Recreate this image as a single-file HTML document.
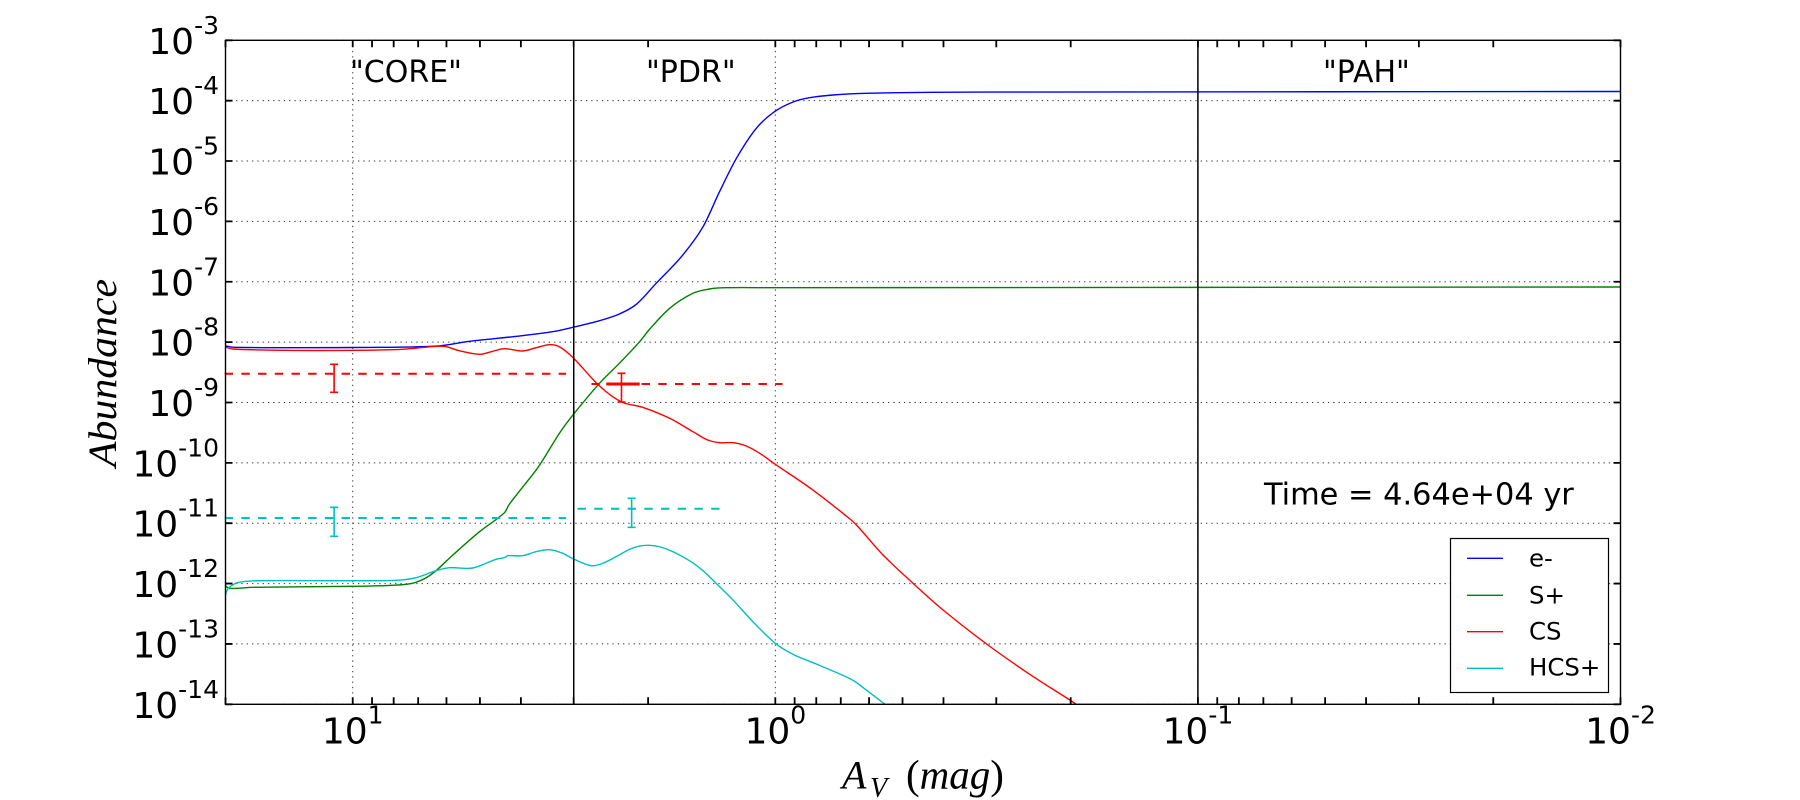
<!DOCTYPE html>
<html lang="en">
<head>
<meta charset="utf-8">
<title>Abundance vs visual extinction</title>
<style>
html,body{margin:0;padding:0;background:#fff;width:1800px;height:800px;overflow:hidden}
svg{display:block}
text{font-family:"DejaVu Sans","Liberation Sans",sans-serif;fill:#000}
.math{font-family:"Liberation Serif",serif}
</style>
</head>
<body>
<svg id="chart" xmlns="http://www.w3.org/2000/svg" width="1800" height="800" viewBox="0 0 1800 800">
  <defs>
    <clipPath id="plot-clip"><rect x="225.5" y="40.3" width="1395" height="664"/></clipPath>
  </defs>
  <rect x="0" y="0" width="1800" height="800" fill="#fff"/>
  <g id="grid"></g>
  <g id="series" clip-path="url(#plot-clip)"></g>
  <g id="observed"></g>
  <g id="regions"></g>
  <g id="ticks"></g>
  <rect x="225.5" y="40.3" width="1395" height="664" fill="none" stroke="#000" stroke-width="1.4"/>
  <g id="ticklabels"></g>

  <text x="350" y="82" font-size="30">"CORE"</text>
  <text x="646" y="82" font-size="30">"PDR"</text>
  <text x="1323" y="82" font-size="30">"PAH"</text>
  <text x="1264" y="504.3" font-size="30.4">Time = 4.64e+04 yr</text>

  <text class="math" transform="translate(116 467) rotate(-90)" font-size="40" font-style="italic" textLength="188" lengthAdjust="spacingAndGlyphs">Abundance</text>
  <g>
    <text class="math" x="842" y="788.3" font-size="40" font-style="italic">A</text>
    <text class="math" x="870" y="797" font-size="28" font-style="italic">V</text>
    <text class="math" x="906" y="788.3" font-size="41">(<tspan font-style="italic">mag</tspan>)</text>
  </g>

  <g>
    <rect x="1450.5" y="538.5" width="158" height="154" fill="#fff" stroke="#000" stroke-width="1.2"/>
    <g>
      <line x1="1467" x2="1503" y1="558.3" y2="558.3" stroke="#0000ff" stroke-width="1.3"/>
      <text x="1529" y="566.7" font-size="24.4">e-</text>
    </g>
    <g>
      <line x1="1467" x2="1503" y1="595.3" y2="595.3" stroke="#008000" stroke-width="1.3"/>
      <text x="1529" y="603.3" font-size="24.4">S+</text>
    </g>
    <g>
      <line x1="1467" x2="1503" y1="631.7" y2="631.7" stroke="#ff0000" stroke-width="1.3"/>
      <text x="1529" y="639.3" font-size="24.4">CS</text>
    </g>
    <g>
      <line x1="1467" x2="1503" y1="668.3" y2="668.3" stroke="#00bfbf" stroke-width="1.3"/>
      <text x="1529" y="675.7" font-size="24.4">HCS+</text>
    </g>
  </g>
</svg>
<script>
// Axis domain, log10 units
var xDomainLog = [1.30103, -2];
var yDomainLog = [-3, -14];

// Tick values, log10 units
var xMajorDecades = [1, 0, -1, -2];
var xMinorMultiples = [2, 3, 4, 5, 6, 7, 8, 9];
var yMajorDecades = [-3, -4, -5, -6, -7, -8, -9, -10, -11, -12, -13, -14];
var xTickExponents = ['1', '0', '-1', '-2'];
var yTickExponents = ['-3', '-4', '-5', '-6', '-7', '-8', '-9', '-10', '-11', '-12', '-13', '-14'];

// Region boundaries, log10(Av)
var regionBoundaries = [0.477, -1];

// e-
var electronLogAv = [1.303,1.280,1.001,0.802,0.724,0.606,0.527,0.479,0.416,0.369,0.329,0.282,0.219,0.171,0.132,0.092,0.045,0.002,-0.042,-0.081,-0.136,-0.215,-0.372,-0.609,-2.000];
var electronLogAbundance = [-8.060,-8.086,-8.089,-8.065,-7.987,-7.899,-7.828,-7.755,-7.645,-7.534,-7.374,-7.026,-6.557,-6.088,-5.508,-4.955,-4.458,-4.183,-4.022,-3.951,-3.906,-3.878,-3.861,-3.857,-3.848];

// S+
var sPlusLogAv = [1.303,1.292,1.238,1.001,0.906,0.859,0.826,0.803,0.763,0.700,0.641,0.629,0.566,0.550,0.511,0.479,0.416,0.369,0.321,0.298,0.250,0.195,0.156,0.116,0.006,-2.000];
var sPlusLogAbundance = [-12.024,-12.079,-12.062,-12.046,-12.029,-11.996,-11.903,-11.787,-11.527,-11.141,-10.826,-10.682,-10.119,-9.953,-9.511,-9.208,-8.682,-8.351,-7.993,-7.791,-7.440,-7.191,-7.120,-7.099,-7.099,-7.087];

// CS
var csLogAv = [1.303,1.284,1.158,1.000,0.882,0.803,0.779,0.748,0.700,0.669,0.641,0.598,0.566,0.534,0.511,0.479,0.416,0.365,0.314,0.250,0.195,0.160,0.132,0.100,0.069,0.037,0.000,-0.089,-0.168,-0.192,-0.255,-0.326,-0.397,-0.500,-0.602,-0.697,-0.721];
var csLogAbundance = [-8.076,-8.114,-8.136,-8.136,-8.119,-8.069,-8.076,-8.142,-8.202,-8.152,-8.109,-8.147,-8.093,-8.043,-8.076,-8.255,-8.727,-8.987,-9.080,-9.262,-9.484,-9.622,-9.667,-9.667,-9.721,-9.842,-10.024,-10.450,-10.881,-11.030,-11.527,-11.996,-12.438,-13.001,-13.503,-13.929,-14.045];

// HCS+
var hcsLogAv = [1.303,1.299,1.288,1.269,1.221,1.000,0.897,0.850,0.803,0.771,0.716,0.661,0.639,0.633,0.598,0.566,0.534,0.503,0.479,0.436,0.408,0.377,0.345,0.321,0.298,0.274,0.242,0.203,0.171,0.140,0.100,0.053,0.000,-0.042,-0.097,-0.171,-0.192,-0.215,-0.259,-0.271];
var hcsLogAbundance = [-12.273,-12.135,-12.041,-11.979,-11.953,-11.953,-11.946,-11.903,-11.787,-11.737,-11.742,-11.598,-11.565,-11.538,-11.538,-11.472,-11.439,-11.499,-11.588,-11.704,-11.664,-11.555,-11.433,-11.378,-11.366,-11.390,-11.472,-11.621,-11.787,-11.996,-12.273,-12.632,-12.990,-13.172,-13.333,-13.556,-13.639,-13.763,-13.995,-14.062];

// Observed levels: region ranges, levels and error bars
var observedColors = ['#ff0000', '#ff0000', '#00bfbf', '#00bfbf'];
var observedNames = ['cs-core', 'cs-pdr', 'hcs-core', 'hcs-pdr'];
var observedStartLogAv = [1.303, 0.435, 1.303, 0.468];
var observedEndLogAv = [0.495, -0.017, 0.495, 0.132];
var observedLevel = [-8.523, -8.694, -10.914, -10.760];
var errorLogAv = [1.044, 0.364, 1.044, 0.340];
var errorLow = [-8.832, -8.992, -11.217, -11.068];
var errorHigh = [-8.368, -8.517, -10.737, -10.588];
var crossLogAvStart = [0.400];
var crossLogAvEnd = [0.321];
var crossLevel = [-8.694];

var SVGNS = 'http://www.w3.org/2000/svg';
var plotLeft = 225.5, plotRight = 1620.5, plotTop = 40.3, plotBottom = 704.3;

function xScale(v) {
  return plotLeft + (xDomainLog[0] - v) * (plotRight - plotLeft) / (xDomainLog[0] - xDomainLog[1]);
}
function yScale(v) {
  return plotTop + (yDomainLog[0] - v) * (plotBottom - plotTop) / (yDomainLog[0] - yDomainLog[1]);
}
function make(parent, tag, attrs) {
  var el = document.createElementNS(SVGNS, tag);
  for (var k in attrs) el.setAttribute(k, attrs[k]);
  parent.appendChild(el);
  return el;
}
function splinePath(xs, ys) {
  var pts = xs.map(function (x, i) { return [xScale(x), yScale(ys[i])]; });
  var d = 'M' + pts[0][0].toFixed(2) + ' ' + pts[0][1].toFixed(2);
  for (var i = 0; i < pts.length - 1; i++) {
    var p0 = pts[Math.max(i - 1, 0)], p1 = pts[i], p2 = pts[i + 1], p3 = pts[Math.min(i + 2, pts.length - 1)];
    var segLen = p2[0] - p1[0];
    var t1 = (p2[1] - p0[1]) / Math.max(p2[0] - p0[0], 0.01);
    var t2 = (p3[1] - p1[1]) / Math.max(p3[0] - p1[0], 0.01);
    var c1x = p1[0] + segLen / 3, c1y = p1[1] + t1 * segLen / 3;
    var c2x = p2[0] - segLen / 3, c2y = p2[1] - t2 * segLen / 3;
    d += 'C' + c1x.toFixed(2) + ' ' + c1y.toFixed(2) + ' ' + c2x.toFixed(2) + ' ' + c2y.toFixed(2) + ' ' + p2[0].toFixed(2) + ' ' + p2[1].toFixed(2);
  }
  return d;
}

var gridG = document.getElementById('grid');
var seriesG = document.getElementById('series');
var observedG = document.getElementById('observed');
var regionsG = document.getElementById('regions');
var ticksG = document.getElementById('ticks');
var labelsG = document.getElementById('ticklabels');

// Grid
yMajorDecades.forEach(function (v) {
  var y = yScale(v);
  var l = make(gridG, 'line', { x1: plotLeft, x2: plotRight, y1: y, y2: y, stroke: '#333', 'stroke-width': 1, 'stroke-dasharray': '1.3 4' });
  
  
});
xMajorDecades.forEach(function (v) {
  var x = xScale(v);
  var l = make(gridG, 'line', { x1: x, x2: x, y1: plotTop, y2: plotBottom, stroke: '#333', 'stroke-width': 1, 'stroke-dasharray': '1.3 4' });
  
  
});

// Series
function drawSeries(xs, ys, color, name) {
  var p = make(seriesG, 'path', { d: splinePath(xs, ys), fill: 'none', stroke: color, 'stroke-width': 1.4, 'stroke-linejoin': 'round' });
  
  
}
drawSeries(electronLogAv, electronLogAbundance, '#0000ff', 'series-e');
drawSeries(sPlusLogAv, sPlusLogAbundance, '#008000', 'series-s-plus');
drawSeries(csLogAv, csLogAbundance, '#ff0000', 'series-cs');
drawSeries(hcsLogAv, hcsLogAbundance, '#00bfbf', 'series-hcs-plus');

// Observed dashed levels and error bars
observedLevel.forEach(function (lvl, i) {
  var y = yScale(lvl), c = observedColors[i];
  var dash = make(observedG, 'line', { x1: xScale(observedStartLogAv[i]), x2: xScale(observedEndLogAv[i]), y1: y, y2: y, stroke: c, 'stroke-width': 2, 'stroke-dasharray': '8.4 8.3' });
  
  
  var ex = xScale(errorLogAv[i]), yl = yScale(errorLow[i]), yh = yScale(errorHigh[i]);
  var bar = make(observedG, 'path', { d: 'M' + ex + ' ' + yl + 'V' + yh + 'M' + (ex - 4) + ' ' + yl + 'H' + (ex + 4) + 'M' + (ex - 4) + ' ' + yh + 'H' + (ex + 4), fill: 'none', stroke: c, 'stroke-width': 1.6 });
  
  
});
crossLevel.forEach(function (lvl, i) {
  var y = yScale(lvl);
  var cross = make(observedG, 'line', { x1: xScale(crossLogAvStart[i]), x2: xScale(crossLogAvEnd[i]), y1: y, y2: y, stroke: '#ff0000', 'stroke-width': 3 });
  
  
});

// Region dividers
regionBoundaries.forEach(function (v) {
  var x = xScale(v);
  var l = make(regionsG, 'line', { x1: x, x2: x, y1: plotTop, y2: plotBottom, stroke: '#000', 'stroke-width': 1.5 });
  
  
});

// Ticks
function xTick(x, name) {
  var t = make(ticksG, 'path', { d: 'M' + x + ' ' + plotTop + 'v7M' + x + ' ' + plotBottom + 'v-7', stroke: '#000', 'stroke-width': 1.8, fill: 'none' });
  
  
}
xMajorDecades.forEach(function (d) {
  xTick(xScale(d), 'x-major-tick');
  xMinorMultiples.forEach(function (m) {
    var v = d + Math.log10(m);
    if (v <= xDomainLog[0] + 1e-6 && v >= xDomainLog[1]) {
      xTick(xScale(v), 'x-minor-tick');
    }
  });
});
yMajorDecades.forEach(function (v) {
  var y = yScale(v);
  var t = make(ticksG, 'path', { d: 'M' + plotLeft + ' ' + y + 'h7M' + plotRight + ' ' + y + 'h-7', stroke: '#000', 'stroke-width': 1.8, fill: 'none' });
  
  
});

// Tick labels
function powerLabel(x, y, anchor, exponent, rise, name) {
  var t = make(labelsG, 'text', { x: x, y: y, 'text-anchor': anchor, 'font-size': 36 });
  
  
  t.appendChild(document.createTextNode('10'));
  var s = make(t, 'tspan', { 'font-size': 25, dy: -rise });
  s.textContent = exponent;
}
yMajorDecades.forEach(function (v, i) {
  powerLabel(219, yScale(v) + 13.5, 'end', yTickExponents[i], 20, 'y-tick-label');
});
xMajorDecades.forEach(function (v, i) {
  powerLabel(xScale(v), 743.3, 'middle', xTickExponents[i], 20, 'x-tick-label');
});
</script>
</body>
</html>
